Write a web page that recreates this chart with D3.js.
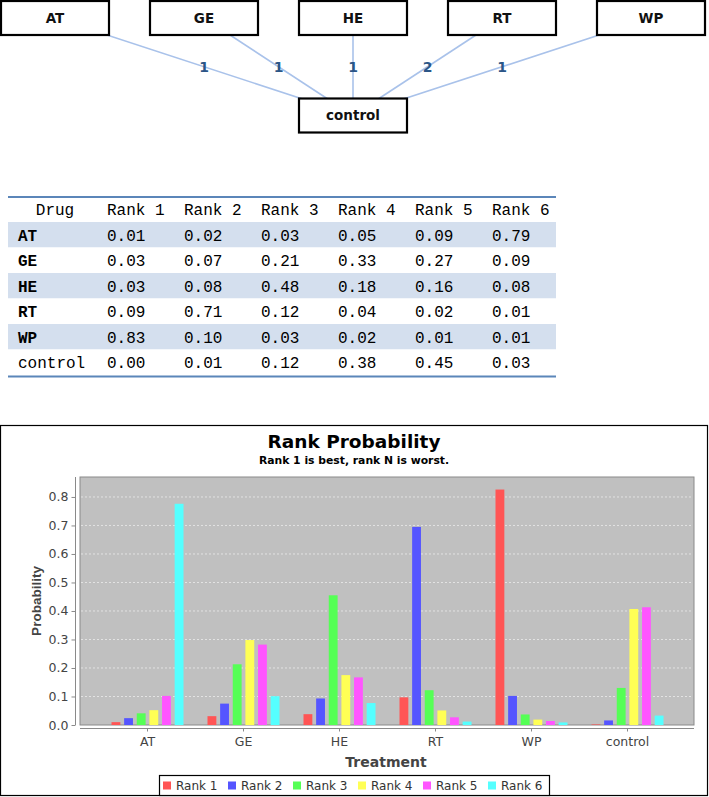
<!DOCTYPE html>
<html>
<head>
<meta charset="utf-8">
<script src="https://cdn.jsdelivr.net/npm/d3@7"></script>
<style>
  body { margin: 0; background: #fff; }
  svg { display: block; }
</style>
</head>
<body>
<svg id="chart" width="709" height="797"></svg>
<script>
// network
const treatments = ["AT", "GE", "HE", "RT", "WP"];
const reference = "control";
const edgeCounts = [1, 1, 1, 2, 1];

// table
const drugs = ["AT", "GE", "HE", "RT", "WP", "control"];
const rankLabels = ["Rank 1", "Rank 2", "Rank 3", "Rank 4", "Rank 5", "Rank 6"];
const tableValues = [
    [0.01, 0.02, 0.03, 0.05, 0.09, 0.79],
    [0.03, 0.07, 0.21, 0.33, 0.27, 0.09],
    [0.03, 0.08, 0.48, 0.18, 0.16, 0.08],
    [0.09, 0.71, 0.12, 0.04, 0.02, 0.01],
    [0.83, 0.10, 0.03, 0.02, 0.01, 0.01],
    [0.00, 0.01, 0.12, 0.38, 0.45, 0.03]
];

// bar chart
const categories = ["AT", "GE", "HE", "RT", "WP", "control"];
const barValues = [
    [0.010, 0.024, 0.041, 0.052, 0.102, 0.776],
    [0.031, 0.075, 0.213, 0.298, 0.282, 0.101],
    [0.038, 0.093, 0.455, 0.175, 0.167, 0.077],
    [0.097, 0.695, 0.122, 0.051, 0.027, 0.012],
    [0.826, 0.102, 0.037, 0.019, 0.014, 0.009],
    [0.002, 0.016, 0.130, 0.407, 0.413, 0.033]
];
const yTicks = [0, 0.1, 0.2, 0.3, 0.4, 0.5, 0.6, 0.7, 0.8];
const seriesColors = ["#ff5555", "#5555ff", "#55ff55", "#ffff55", "#ff55ff", "#55ffff"];

const svg = d3.select("#chart");

// ---------- network diagram ----------
function drawNetwork() {
    const g = svg.append("g");
    const boxW = 108, boxH = 34;
    const xTop = d3.scalePoint().domain(treatments).range([55, 651]);
    const yTop = 18, yRef = 115.5;
    const xRef = xTop("HE");

    const edges = treatments.map((t, i) => ({
        x1: xTop(t), y1: yTop, x2: xRef, y2: yRef, n: edgeCounts[i]
    }));

    g.selectAll(".edge").data(edges).enter().append("line")
        .attr("x1", d => d.x1).attr("y1", d => d.y1)
        .attr("x2", d => d.x2).attr("y2", d => d.y2)
        .attr("stroke", "#a9c2ea")
        .attr("stroke-width", 1.6);

    const nodes = treatments.map(t => ({ name: t, x: xTop(t), y: yTop }))
        .concat([{ name: reference, x: xRef, y: yRef }]);

    const node = g.selectAll(".node").data(nodes).enter().append("g")
        .attr("transform", d => `translate(${d.x},${d.y})`);
    node.append("rect")
        .attr("x", -boxW / 2).attr("y", -boxH / 2)
        .attr("width", boxW).attr("height", boxH)
        .attr("fill", "#fff")
        .attr("stroke", "#000")
        .attr("stroke-width", 2.2);
    node.append("text")
        .attr("text-anchor", "middle")
        .attr("dy", "0.36em")
        .attr("font-family", "DejaVu Sans")
        .attr("font-weight", "bold")
        .attr("font-size", 13.5)
        .attr("fill", "#111")
        .text(d => d.name);

    g.selectAll(".elabel").data(edges).enter().append("text")
        .attr("x", d => (d.x1 + d.x2) / 2)
        .attr("y", d => (d.y1 + d.y2) / 2)
        .attr("dy", "0.36em")
        .attr("text-anchor", "middle")
        .attr("font-family", "DejaVu Sans")
        .attr("font-weight", "bold")
        .attr("font-size", 14)
        .attr("fill", "#2b5687")
        .text(d => d.n);
}

// ---------- table ----------
function drawTable() {
    const g = svg.append("g");
    const left = 8, right = 556;
    const headY = 209, rowTop = 222, rowH = 25.5;
    const xCol = d3.scaleBand().domain(rankLabels).range([107, 569]);
    const font = "Liberation Mono";

    g.selectAll(".band").data(drugs).enter().append("rect")
        .attr("x", left).attr("y", (d, i) => rowTop + i * rowH)
        .attr("width", right - left).attr("height", rowH)
        .attr("fill", (d, i) => i % 2 === 0 ? "#d4dfee" : "#fff");

    g.append("line").attr("x1", left).attr("x2", right)
        .attr("y1", 197).attr("y2", 197)
        .attr("stroke", "#5b86b9").attr("stroke-width", 2);
    g.append("line").attr("x1", left).attr("x2", right)
        .attr("y1", rowTop + drugs.length * rowH + 1.5).attr("y2", rowTop + drugs.length * rowH + 1.5)
        .attr("stroke", "#5b86b9").attr("stroke-width", 2);

    g.append("text").attr("x", 55).attr("y", headY).attr("dy", "0.36em")
        .attr("text-anchor", "middle")
        .attr("font-family", font).attr("font-size", 16).attr("fill", "#000")
        .text("Drug");
    g.selectAll(".head").data(rankLabels).enter().append("text")
        .attr("x", d => xCol(d)).attr("y", headY).attr("dy", "0.36em")
        .attr("font-family", font).attr("font-size", 16).attr("fill", "#000")
        .text(d => d);

    const row = g.selectAll(".row").data(drugs).enter().append("g")
        .attr("transform", (d, i) => `translate(0,${rowTop + i * rowH + rowH / 2})`);
    row.append("text").attr("x", 18).attr("dy", "0.36em")
        .attr("font-family", font).attr("font-size", 16).attr("fill", "#000")
        .attr("font-weight", d => d === "control" ? "normal" : "bold")
        .text(d => d);
    row.selectAll(".val").data((d, i) => tableValues[i]).enter().append("text")
        .attr("x", (d, j) => xCol(rankLabels[j])).attr("dy", "0.36em")
        .attr("font-family", font).attr("font-size", 16).attr("fill", "#000")
        .text(d => d.toFixed(2));
}

// ---------- bar chart ----------
function drawBars() {
    const g = svg.append("g");
    const plot = { left: 80, right: 694, top: 477, bottom: 725 };
    const sans = "DejaVu Sans";

    g.append("rect").attr("x", 0.5).attr("y", 425.5)
        .attr("width", 707).attr("height", 370)
        .attr("fill", "#fff").attr("stroke", "#000").attr("stroke-width", 1.2);

    g.append("text").attr("x", 354).attr("y", 447.5)
        .attr("text-anchor", "middle").attr("font-family", sans)
        .attr("font-weight", "bold").attr("font-size", 18.5).attr("fill", "#000")
        .text("Rank Probability");
    g.append("text").attr("x", 354).attr("y", 464)
        .attr("text-anchor", "middle").attr("font-family", sans)
        .attr("font-weight", "bold").attr("font-size", 10.8).attr("fill", "#000")
        .text("Rank 1 is best, rank N is worst.");

    const x = d3.scaleBand().domain(categories).range([99.5, 675.5]);
    const xs = d3.scaleBand().domain(rankLabels)
        .range([-36, 36]).paddingInner(0.3).paddingOuter(0);
    const y = d3.scaleLinear().domain([0, 0.87]).range([plot.bottom, plot.top]);

    g.append("rect").attr("x", plot.left).attr("y", plot.top)
        .attr("width", plot.right - plot.left).attr("height", plot.bottom - plot.top)
        .attr("fill", "#c0c0c0").attr("stroke", "#8a8a8a").attr("stroke-width", 1);

    g.selectAll(".grid").data(yTicks.filter(t => t > 0)).enter().append("line")
        .attr("x1", plot.left + 1).attr("x2", plot.right - 1)
        .attr("y1", d => y(d)).attr("y2", d => y(d))
        .attr("stroke", "#ececec").attr("stroke-width", 0.8)
        .attr("stroke-dasharray", "2,2");

    const cat = g.selectAll(".cat").data(categories).enter().append("g")
        .attr("transform", d => `translate(${x(d) + x.bandwidth() / 2},0)`);
    cat.selectAll("rect").data((d, i) => barValues[i]).enter().append("rect")
        .attr("x", (d, j) => xs(rankLabels[j]))
        .attr("width", xs.bandwidth())
        .attr("y", d => y(d))
        .attr("height", d => y(0) - y(d))
        .attr("fill", (d, j) => seriesColors[j]);

    // y axis
    const yAxis = g.append("g").attr("transform", "translate(75.5,0)")
        .call(d3.axisLeft(y).tickValues(yTicks).tickFormat(d3.format(".1f"))
            .tickSize(4).tickPadding(3));
    yAxis.select(".domain").attr("stroke", "#8a8a8a")
        .attr("d", `M0,${plot.top}V${plot.bottom}`);
    yAxis.selectAll(".tick line").attr("stroke", "#8a8a8a");
    yAxis.selectAll(".tick text").attr("font-family", sans)
        .attr("font-size", 12.5).attr("fill", "#444");

    // x axis
    const xAxis = g.append("g").attr("transform", "translate(0,728.5)")
        .call(d3.axisBottom(x).tickSize(3).tickPadding(6));
    xAxis.select(".domain").attr("stroke", "#8a8a8a")
        .attr("d", `M${plot.left},0H${plot.right}`);
    xAxis.selectAll(".tick line").attr("stroke", "#8a8a8a");
    xAxis.selectAll(".tick text").attr("font-family", sans)
        .attr("font-size", 12.5).attr("fill", "#444");

    g.append("text").attr("x", 386).attr("y", 767)
        .attr("text-anchor", "middle").attr("font-family", sans)
        .attr("font-weight", "bold").attr("font-size", 14).attr("fill", "#444")
        .text("Treatment");
    g.append("text")
        .attr("transform", "translate(36,601) rotate(-90)")
        .attr("dy", "0.36em")
        .attr("text-anchor", "middle").attr("font-family", "Liberation Sans")
        .attr("font-weight", "bold").attr("font-size", 13.5).attr("fill", "#444")
        .text("Probability");

    // legend
    const lg = g.append("g");
    lg.append("rect").attr("x", 159.5).attr("y", 775.5)
        .attr("width", 390).attr("height", 20)
        .attr("fill", "#fff").attr("stroke", "#000").attr("stroke-width", 1.2);
    const item = lg.selectAll(".item").data(rankLabels).enter().append("g")
        .attr("transform", (d, i) => `translate(${163 + i * 65},785.5)`);
    item.append("rect").attr("x", 0).attr("y", -4).attr("width", 8).attr("height", 8)
        .attr("fill", (d, i) => seriesColors[i]);
    item.append("text").attr("x", 13).attr("dy", "0.36em")
        .attr("font-family", sans).attr("font-size", 12).attr("fill", "#333")
        .text(d => d);
}

drawNetwork();
drawTable();
drawBars();
</script>
</body>
</html>
